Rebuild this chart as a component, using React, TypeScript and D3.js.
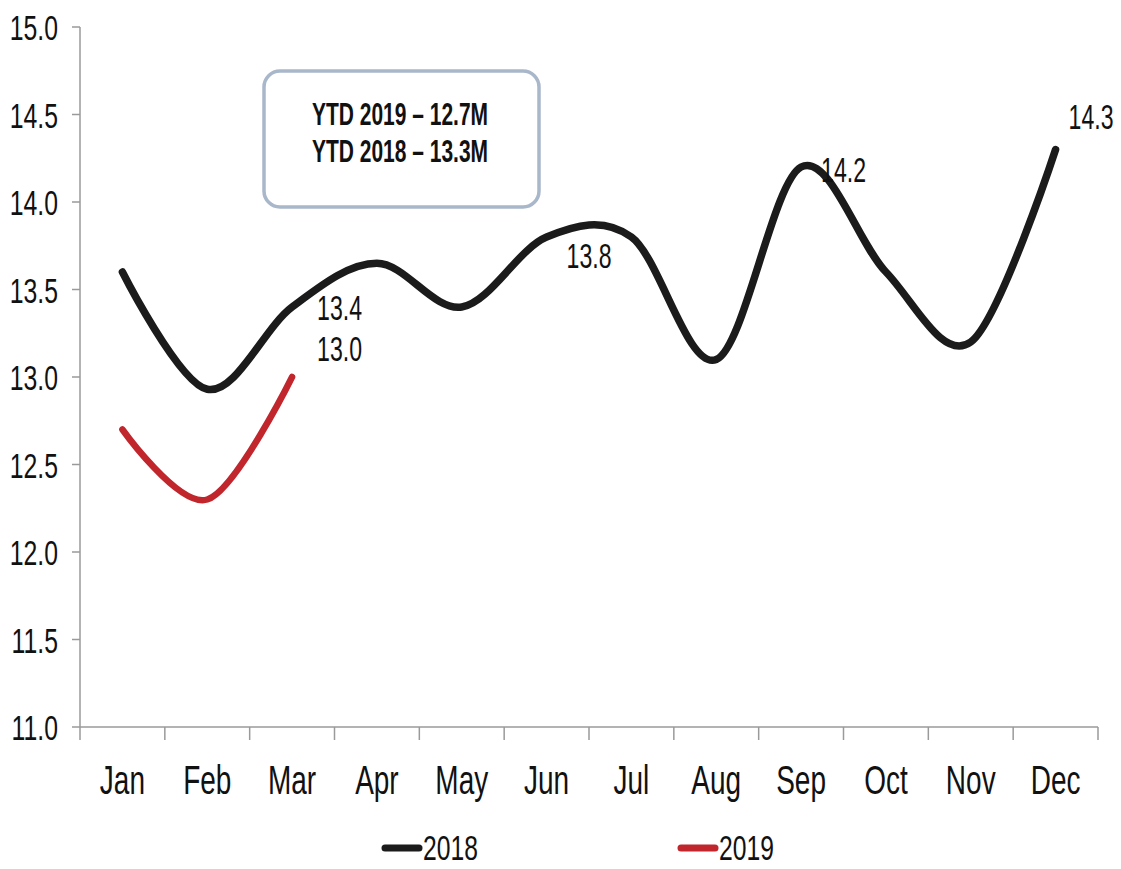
import React from "react";
import * as d3 from "d3";

const months = ["Jan", "Feb", "Mar", "Apr", "May", "Jun", "Jul", "Aug", "Sep", "Oct", "Nov", "Dec"];
const values2018 = [13.6, 12.93, 13.4, 13.65, 13.4, 13.8, 13.8, 13.1, 14.2, 13.6, 13.2, 14.3];
const values2019 = [12.7, 12.3, 13.0];
const yTicks = [11.0, 11.5, 12.0, 12.5, 13.0, 13.5, 14.0, 14.5, 15.0];
const seriesNames = ["2018", "2019"];
const boxLines = ["YTD 2019 – 12.7M", "YTD 2018 – 13.3M"];
// labelled points: [series index, month index, label text]
const dataLabels: [number, number, string][] = [
  [0, 2, "13.4"],
  [1, 2, "13.0"],
  [0, 5, "13.8"],
  [0, 8, "14.2"],
  [0, 11, "14.3"],
];
// label offsets (layout only)
const labelOffsets = [
  [25, 13],
  [25, -16],
  [20, 31],
  [20, 15],
  [13, -21],
];

const W = 1121;
const H = 869;
const FONT = "'Liberation Sans', Arial, sans-serif";
const COLORS = ["#1b1b1b", "#c0262c"];

function T({ x, y, size, sy, anchor = "start", weight = "normal", children }: any) {
  return (
    <text
      transform={`translate(${x},${y}) scale(1,${sy})`}
      fontSize={size}
      fontFamily={FONT}
      fontWeight={weight}
      textAnchor={anchor}
      fill="#111"
    >
      {children}
    </text>
  );
}

export default function App() {
  const left = 80;
  const right = 1098;
  const top = 27;
  const bottom = 727;
  const x = d3.scaleBand<string>().domain(months).range([left, right]);
  const cx = (m: string) => (x(m) as number) + x.bandwidth() / 2;
  const y = d3.scaleLinear().domain([11, 15]).range([bottom, top]);

  const line = d3
    .line<number>()
    .x((_, i) => cx(months[i]))
    .y((d) => y(d))
    .curve(d3.curveCardinal.tension(0));

  const series = [values2018, values2019];
  const boundaries = [...months.map((m) => x(m) as number), right];

  return (
    <svg width={W} height={H} style={{ position: "absolute", left: 0, top: 0, background: "#fff" }}>
      <rect x={0} y={0} width={W} height={H} fill="#fff" />
      {/* axes */}
      <line x1={left} x2={left} y1={top} y2={bottom} stroke="#9a9a9a" strokeWidth={1.5} />
      <line x1={left} x2={right} y1={bottom} y2={bottom} stroke="#9a9a9a" strokeWidth={1.5} />
      {yTicks.map((t) => (
        <g key={t}>
          <line x1={left - 8} x2={left} y1={y(t)} y2={y(t)} stroke="#9a9a9a" strokeWidth={1.5} />
          <T x={left - 22} y={y(t) + 13} size={24.8} sy={1.45} anchor="end">
            {t.toFixed(1)}
          </T>
        </g>
      ))}
      {boundaries.map((b, i) => (
        <line key={i} x1={b} x2={b} y1={bottom} y2={bottom + 13} stroke="#9a9a9a" strokeWidth={1.5} />
      ))}
      {months.map((m) => (
        <T key={m} x={cx(m)} y={794} size={28} sy={1.45} anchor="middle">
          {m}
        </T>
      ))}

      {/* annotation box */}
      <rect x={264} y={71} width={275} height={136} rx={16} ry={16} fill="#fff" stroke="#a9b7ca" strokeWidth={3.5} />
      {boxLines.map((s, i) => (
        <T key={s} x={400} y={125 + i * 37} size={21} sy={1.45} anchor="middle" weight="bold">
          {s}
        </T>
      ))}

      {/* lines */}
      {series.map((vals, si) => (
        <path
          key={si}
          d={line(vals) as string}
          fill="none"
          stroke={COLORS[si]}
          strokeWidth={si === 0 ? 7.5 : 6.5}
          strokeLinecap="round"
          strokeLinejoin="round"
        />
      ))}

      {/* data labels */}
      {dataLabels.map(([si, mi, txt], i) => (
        <T
          key={i}
          x={cx(months[mi]) + labelOffsets[i][0]}
          y={y(series[si][mi]) + labelOffsets[i][1]}
          size={23.1}
          sy={1.5}
        >
          {txt}
        </T>
      ))}

      {/* legend */}
      {seriesNames.map((n, i) => {
        const lx = i === 0 ? 385 : 681;
        return (
          <g key={n}>
            <line x1={lx} x2={lx + 34} y1={848} y2={848} stroke={COLORS[i]} strokeWidth={7} strokeLinecap="round" />
            <T x={lx + 38} y={860} size={24.7} sy={1.45}>
              {n}
            </T>
          </g>
        );
      })}
    </svg>
  );
}
